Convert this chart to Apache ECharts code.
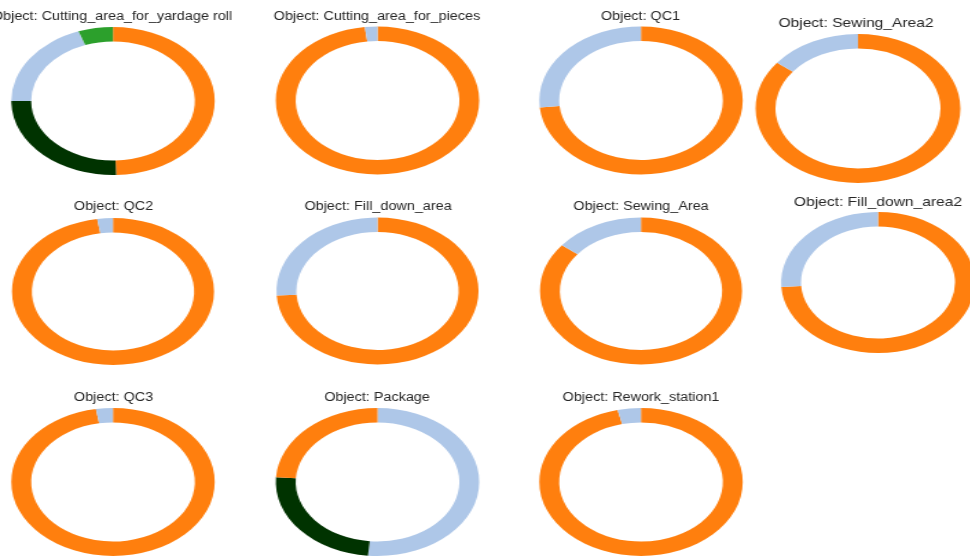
<!DOCTYPE html>
<html>
<head>
<meta charset="utf-8">
<title>Object state breakdown</title>
<script src="https://cdn.jsdelivr.net/npm/echarts@6/dist/echarts.min.js"></script>
<style>
  html, body { margin: 0; padding: 0; background: #ffffff; overflow: hidden; }
  #stage { position: relative; width: 970px; height: 556px; overflow: hidden; }
  #rings, #labels { position: absolute; left: 0; top: 0; transform-origin: 0 0; }
</style>
</head>
<body>
<div id="stage">
  <div id="rings"></div>
  <div id="labels"></div>
</div>
<script>
// ---- data: share of time (%) each object spent in each state ----
const objectNames = [
  'Cutting_area_for_yardage roll', 'Cutting_area_for_pieces', 'QC1', 'Sewing_Area2',
  'QC2', 'Fill_down_area', 'Sewing_Area', 'Fill_down_area2',
  'QC3', 'Package', 'Rework_station1'
];
const stateNames = ['Working', 'Idle', 'Blocked', 'Setup'];
const working = [49.5, 98.0, 73.5, 85.5, 97.5, 74.0, 85.7, 74.0, 97.3, 24.0, 96.3];
const idle    = [19.5,  2.0, 26.5, 14.5,  2.5, 26.0, 14.3, 26.0,  2.7, 51.5,  3.7];
const blocked = [25.5,  0,    0,    0,    0,    0,    0,    0,    0,   24.5,  0];
const setup   = [ 5.5,  0,    0,    0,    0,    0,    0,    0,    0,    0,    0];

// ---- styling and layout ----
const stateColors = ['#ff7f0e', '#aec7e8', '#003300', '#2ca02c'];
const ringStretch = 1.375;   // horizontal stretch of the ring layer
const labelStretch = 1.2;    // horizontal stretch of the caption layer
const centersX = [113, 377.5, 641, 858, 113, 377.5, 641, 878, 113, 377.5, 641];
const centersY = [101, 100.5, 100.5, 108.5, 291.5, 291, 291, 282.5, 482, 482, 482];
const outerR   = [74, 74, 74, 74.5, 73.5, 73.5, 73.5, 70.5, 74, 74, 74];
const ringWidth = 14.5;
const titleX = [112, 377, 640.5, 856, 113.5, 378, 641, 878, 113.5, 377, 641];
const titleY = [16.5, 16.5, 16.5, 23, 206.5, 206.5, 206.5, 202, 398, 398, 398];
const titleSize = [12, 12, 12, 13, 12, 12, 12, 13, 12, 12, 12];

const W = 970, H = 556;
const fontStack = '"Liberation Sans", Arial, Helvetica, sans-serif';
const stateSeries = [working, idle, blocked, setup];

// ring layer
const ringsEl = document.getElementById('rings');
ringsEl.style.width = Math.ceil(W / ringStretch) + 'px';
ringsEl.style.height = H + 'px';
ringsEl.style.transform = 'scaleX(' + ringStretch + ')';

const pieSeries = objectNames.map(function (name, i) {
  // slices drawn largest first, clockwise from twelve o'clock
  const slices = stateNames
    .map(function (s, k) {
      return { name: s, value: stateSeries[k][i], itemStyle: { color: stateColors[k] } };
    })
    .filter(function (d) { return d.value > 0; })
    .sort(function (a, b) { return b.value - a.value; });
  return {
    type: 'pie',
    name: name,
    center: [centersX[i] / ringStretch, centersY[i]],
    radius: [outerR[i] - ringWidth, outerR[i]],
    startAngle: 90,
    clockwise: true,
    silent: true,
    label: { show: false },
    labelLine: { show: false },
    emphasis: { disabled: true },
    itemStyle: { borderWidth: 0 },
    data: slices
  };
});

const rings = echarts.init(ringsEl, null, { renderer: 'canvas' });
rings.setOption({
  animation: false,
  backgroundColor: 'transparent',
  series: pieSeries
});

// caption layer
const labelsEl = document.getElementById('labels');
labelsEl.style.width = Math.ceil(W / labelStretch) + 'px';
labelsEl.style.height = H + 'px';
labelsEl.style.transform = 'scaleX(' + labelStretch + ')';

const labels = echarts.init(labelsEl, null, { renderer: 'canvas' });
labels.setOption({
  animation: false,
  backgroundColor: 'transparent',
  title: objectNames.map(function (name, i) {
    return {
      text: 'Object: ' + name,
      left: titleX[i] / labelStretch,
      top: titleY[i],
      padding: 0,
      textAlign: 'center',
      textVerticalAlign: 'middle',
      textStyle: {
        fontFamily: fontStack,
        fontSize: titleSize[i],
        fontWeight: 'normal',
        color: '#262626'
      }
    };
  })
});
</script>
</body>
</html>
